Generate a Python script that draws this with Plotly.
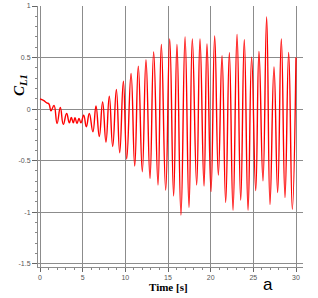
import plotly.graph_objects as go

# extrema of the C_L1 signal (time [s], value)
time_s = [0.0, 0.4, 0.8, 1.05, 1.29, 1.64, 2.0, 2.38, 2.73, 3.12, 3.44, 3.67, 3.9, 4.1, 4.34,
          4.57, 4.8, 5.12, 5.43, 5.78, 6.2, 6.56, 6.95, 7.34, 7.73, 8.12, 8.52, 8.95, 9.34,
          9.77, 10.16, 10.67, 11.1, 11.52, 11.99, 12.42, 12.89, 13.32, 13.83, 14.22, 14.73,
          15.2, 15.66, 16.05, 16.52, 17.0, 17.46, 17.85, 18.36, 18.75, 19.22, 19.57, 20.04,
          20.47, 20.9, 21.33, 21.76, 22.19, 22.62, 23.09, 23.52, 23.94, 24.38, 24.8, 25.28,
          25.66, 26.13, 26.56, 26.95, 27.42, 27.85, 28.28, 28.71, 29.14, 29.57, 30.0]
cl1 = [0.10, 0.085, 0.06, 0.05, -0.016, 0.036, -0.139, 0.016, -0.148, -0.042, -0.133, -0.08,
       -0.133, -0.084, -0.139, -0.09, -0.133, -0.058, -0.171, -0.042, -0.22, 0.03, -0.265,
       0.07, -0.32, 0.126, -0.362, 0.19, -0.423, 0.27, -0.484, 0.346, -0.552, 0.417, -0.607,
       0.48, -0.672, 0.555, -0.736, 0.627, -0.785, 0.68, -0.843, 0.627, -1.027, 0.70, -0.953,
       0.68, -0.736, 0.68, -0.746, 0.633, -0.80, 0.71, -0.64, 0.517, -0.905, 0.546, -0.98,
       0.724, -0.882, 0.672, -0.98, 0.504, -0.79, 0.559, -0.695, 0.895, -0.924, 0.41, -0.81,
       0.68, -0.856, 0.55, -0.97, 0.5]

x_ticks = [0, 5, 10, 15, 20, 25, 30]
y_ticks = [1, 0.5, 0, -0.5, -1, -1.5]
y_tick_labels = ["1", "0.5", "0", "-0.5", "-1", "-1.5"]

# plot-area pixel box
PL, PR, PT, PB = 38, 303, 6, 267
W, H = 318, 298


def paper_x(px):
    return (px - PL) / (PR - PL)


def paper_y(py):
    return (PB - py) / (PB - PT)


fig = go.Figure()
fig.add_trace(go.Scatter(x=time_s, y=cl1, mode="lines",
                         line=dict(color="#ff0000", width=1.4, shape="spline", smoothing=1.3),
                         showlegend=False, hoverinfo="skip"))

axis_font = dict(family="Liberation Sans, Arial, sans-serif", size=7, color="#555555")

fig.update_layout(
    width=W, height=H,
    margin=dict(l=PL, r=W - PR, t=PT, b=H - PB, autoexpand=False),
    paper_bgcolor="white", plot_bgcolor="white",
    xaxis=dict(range=[-0.234, 30.82], tickvals=x_ticks, ticktext=[str(v) for v in x_ticks],
               automargin=False,
               showgrid=True, gridcolor="#8c8c8c", gridwidth=1, zeroline=False,
               showline=True, linecolor="#8c8c8c", linewidth=1,
               ticks="outside", ticklen=4, tickcolor="#666666",
               minor=dict(dtick=1, ticks="outside", ticklen=2, tickcolor="#888888", showgrid=False),
               tickfont=axis_font),
    yaxis=dict(range=[-1.531, 1.0], tickvals=y_ticks, ticktext=y_tick_labels,
               automargin=False,
               showgrid=True, gridcolor="#8c8c8c", gridwidth=1, zeroline=False,
               showline=True, linecolor="#8c8c8c", linewidth=1,
               ticks="outside", ticklen=5, tickcolor="#666666",
               minor=dict(dtick=0.1, ticks="outside", ticklen=2, tickcolor="#888888", showgrid=False),
               tickfont=axis_font),
    annotations=[
        dict(text="<b>Time [s]</b>", x=paper_x(168), y=paper_y(287), xref="paper", yref="paper",
             showarrow=False, xanchor="center", yanchor="middle",
             font=dict(family="Liberation Serif, Times New Roman, serif", size=11, color="black")),
        dict(text="<b><i>C<sub>L1</sub></i></b>", x=paper_x(20), y=paper_y(85),
             xref="paper", yref="paper", showarrow=False, textangle=-90,
             xanchor="center", yanchor="middle",
             font=dict(family="Liberation Serif, Times New Roman, serif", size=15, color="black")),
        dict(text="a", x=paper_x(268), y=paper_y(284), xref="paper", yref="paper",
             showarrow=False, xanchor="center", yanchor="middle",
             font=dict(family="Liberation Sans, Arial, sans-serif", size=17, color="black")),
    ],
)

fig.write_html("out.html", config={"displayModeBar": False},
               post_script="document.body.style.margin='0';")
